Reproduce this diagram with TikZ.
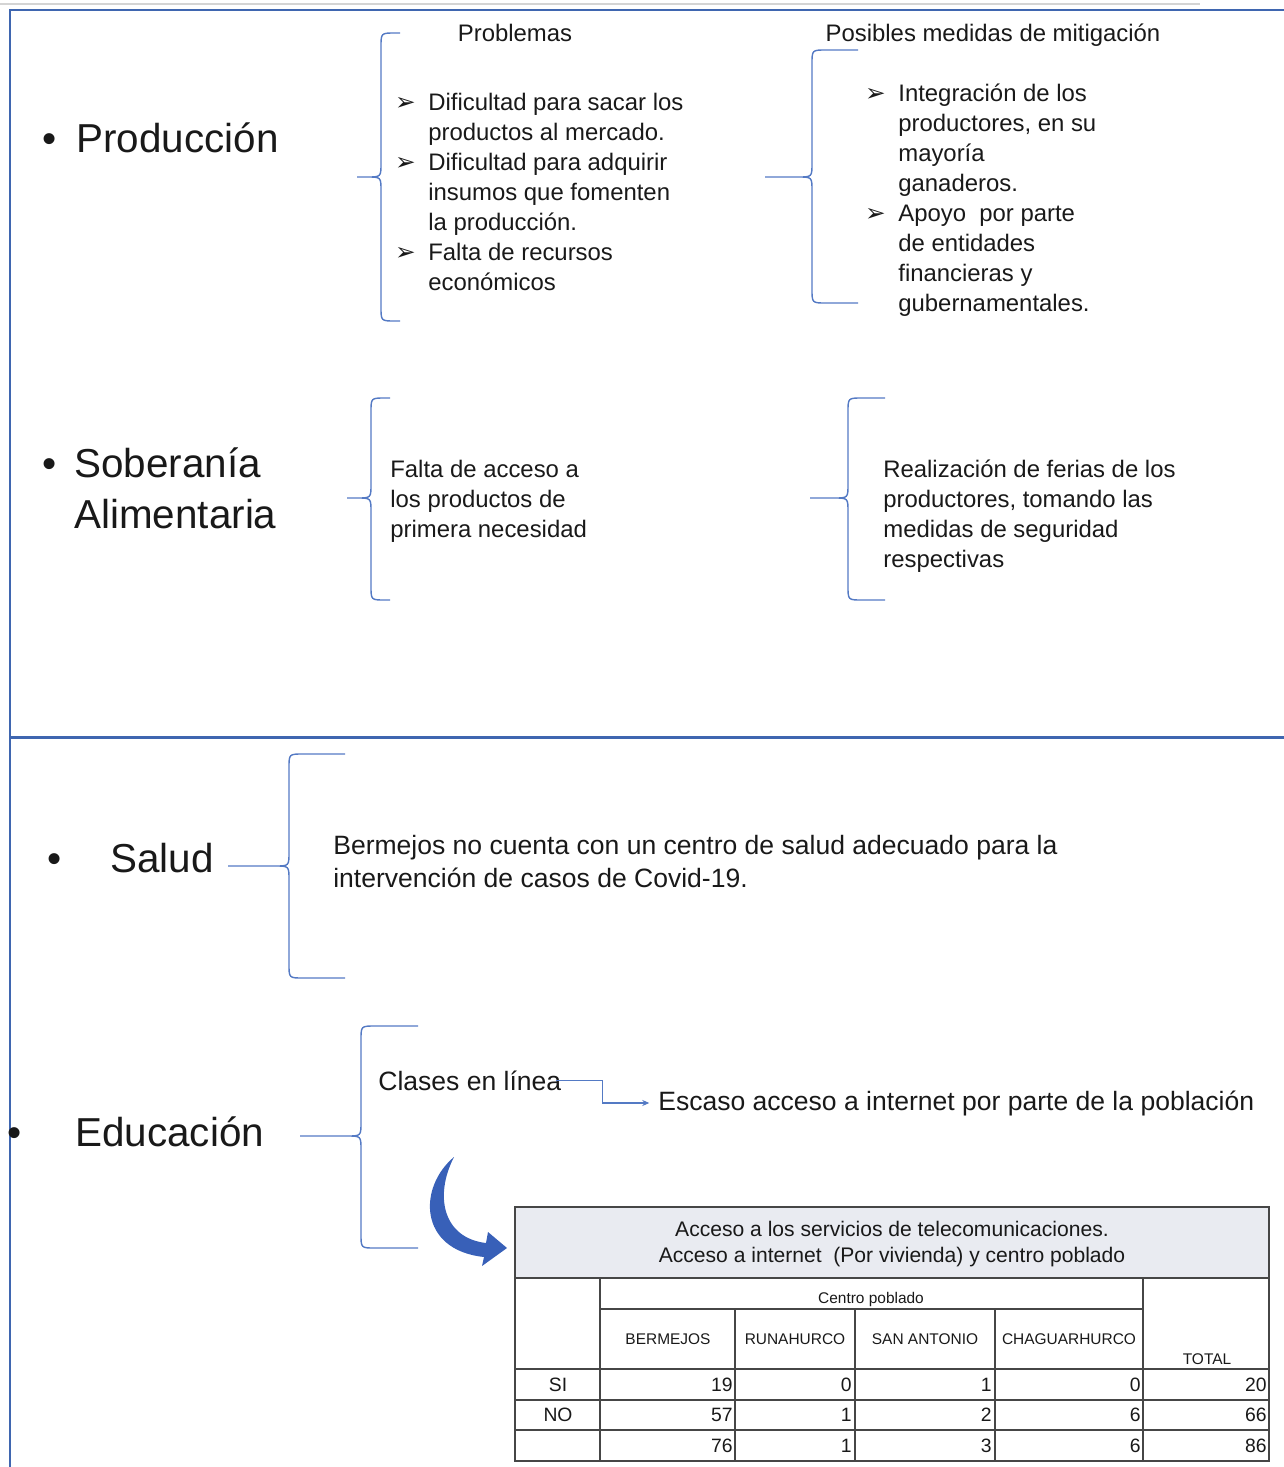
\documentclass[tikz,border=0pt]{standalone}
\usepackage{fontspec}
\setmainfont{Liberation Sans}
\newfontfamily\simbolos{DejaVu Sans}
\usepackage{tikz}
\usetikzlibrary{positioning, arrows.meta, calc}

\definecolor{azulmarco}{RGB}{63,102,176}
\definecolor{azulllave}{RGB}{84,122,196}
\definecolor{azulflecha}{RGB}{56,96,184}
\definecolor{grisborde}{RGB}{212,212,212}
\definecolor{grisceldas}{RGB}{70,70,70}
\definecolor{fondotabla}{RGB}{233,235,241}
\definecolor{tinta}{RGB}{25,25,25}

\tikzset{
  tema/.style={font=\fontsize{23}{29}\selectfont, anchor=base west, inner sep=0pt, align=left, text=tinta},
  punto/.style={font=\fontsize{23}{29}\selectfont, anchor=base, inner sep=0pt, text=tinta},
  encabezado/.style={font=\fontsize{13.6}{17}\selectfont, anchor=base, inner sep=0pt, text=tinta},
  cuerpo/.style={font=\fontsize{13.6}{17}\selectfont, anchor=base west, inner sep=0pt, align=left, text=tinta},
  cuerpog/.style={font=\fontsize{15.1}{18.7}\selectfont, anchor=base west, inner sep=0pt, align=left, text=tinta},
  vineta/.style={font=\simbolos\fontsize{14}{16}\selectfont, anchor=base east, inner sep=0pt, text=tinta},
  llave/.style={draw=azulllave, line width=0.8pt},
  marco/.style={draw=azulmarco, line width=1.7pt},
  celda/.style={draw=grisceldas, line width=1pt},
  cabecera/.style={font=\fontsize{8.8}{10}\selectfont, inner sep=0pt, text=tinta},
  fila/.style={font=\fontsize{11}{13}\selectfont, inner sep=0pt, text=tinta},
  dato/.style={font=\fontsize{11}{13}\selectfont, anchor=east, inner sep=0pt, text=tinta},
  conector/.style={draw=azulllave, line width=0.6pt, -{Stealth[length=4pt,width=3.5pt]}}
}

% llave: x del lomo, y arriba, y de la punta, y abajo, x de la punta, x de los extremos
\newcommand{\llave}[6]{%
  \draw[llave] (#6,#2) -- (#1+14,#2) .. controls (#1,#2) .. (#1,#2+14) -- (#1,#3-14)
    .. controls (#1,#3) .. (#1-14,#3) -- (#5,#3) -- (#1-14,#3)
    .. controls (#1,#3) .. (#1,#3+14) -- (#1,#4-14) .. controls (#1,#4) .. (#1+14,#4) -- (#6,#4);}

\begin{document}
\begin{tikzpicture}[x=0.02cm, y=-0.02cm]
    \useasboundingbox (0,0) rectangle (1284,1467);

    % --- Marco ---
    \draw[grisborde, line width=1.7pt] (0,4) -- (1200,4);
    \draw[marco] (1284,10) -- (10,10) -- (10,1467);
    \draw[marco] (10,737) -- (1284,737);

    % --- Produccion ---
    \node[punto] (bprod) at (50,152) {•};
    \node[tema] (produccion) at (76,152) {Producción};
    \node[encabezado] (problemas) at (515,41) {Problemas};
    \node[encabezado] (mitigacion) at (993,41) {Posibles medidas de mitigación};

    % (el base de un nodo de varias lineas es la ultima linea)
    \node[cuerpo] (prob1) at (428,140) {Dificultad para sacar los\\productos al mercado.};
    \node[cuerpo] (prob2) at (428,230) {Dificultad para adquirir\\insumos que fomenten\\la producción.};
    \node[cuerpo] (prob3) at (428,290) {Falta de recursos\\económicos};
    \node[vineta] (v1) at (416,110) {➢};
    \node[vineta] (v2) at (416,170) {➢};
    \node[vineta] (v3) at (416,260) {➢};

    \node[cuerpo] (mit1) at (898,191) {Integración de los\\productores, en su\\mayoría\\ganaderos.};
    \node[cuerpo] (mit2) at (898,311) {Apoyo~ por parte\\de entidades\\financieras y\\gubernamentales.};
    \node[vineta] (v4) at (886,101) {➢};
    \node[vineta] (v5) at (886,221) {➢};

    \llave{381}{33}{177}{321}{357}{400}
    \llave{812}{50}{177}{303}{765}{858}

    % --- Soberania alimentaria ---
    \node[punto] (bsob) at (50,477) {•};
    \node[tema] (soberania) at (74,528) {Soberanía\\Alimentaria};
    \node[cuerpo] (falta) at (390,537) {Falta de acceso a\\los productos de\\primera necesidad};
    \node[cuerpo] (ferias) at (883,567) {Realización de ferias de los\\productores, tomando las\\medidas de seguridad\\respectivas};

    \llave{371}{398}{498}{600}{347}{390}
    \llave{848}{398}{498}{600}{810}{885}

    % --- Salud ---
    \node[punto] (bsal) at (55,872) {•};
    \node[tema] (salud) at (110,872) {Salud};
    \node[cuerpog] (centro) at (333,887) {Bermejos no cuenta con un centro de salud adecuado para la\\intervención de casos de Covid-19.};
    \llave{289}{754}{866}{978}{228}{345}

    % --- Educacion ---
    \node[punto] (bedu) at (15,1146) {•};
    \node[tema] (educacion) at (75,1146) {Educación};
    \llave{361}{1026}{1136}{1248}{300}{418}
    \node[cuerpog] (clases) at (378,1090) {Clases en línea};
    \node[cuerpog] (escaso) at (658,1110) {Escaso acceso a internet por parte de la población};
    \draw[conector, shorten >=5pt] ([xshift=-3pt]clases.east) -- ++(46,0) |- (escaso.west);

    % flecha curva hacia la tabla
    \fill[azulflecha] (454,1157) .. controls (418,1187) and (418,1250) .. (484,1257)
      -- (482,1266) -- (507,1248) -- (488,1232) -- (486,1243)
      .. controls (443,1238) and (434,1196) .. cycle;

    % --- Tabla ---
    \fill[fondotabla] (515,1207) rectangle (1269,1278);
    \draw[celda] (515,1207) rectangle (1269,1461);
    \draw[celda] (515,1278) -- (1269,1278)
                 (600,1309) -- (1143,1309)
                 (515,1369) -- (1269,1369)
                 (515,1400) -- (1269,1400)
                 (515,1430) -- (1269,1430);
    \draw[celda] (600,1278) -- (600,1461)
                 (735,1309) -- (735,1461)
                 (855,1309) -- (855,1461)
                 (995,1309) -- (995,1461)
                 (1143,1278) -- (1143,1461);

    \node[font=\fontsize{12}{15.3}\selectfont, align=center, text=tinta] (titulotabla) at (892,1244)
      {Acceso a los servicios de telecomunicaciones.\\Acceso a internet~ (Por vivienda) y centro poblado};
    \node[cabecera] (centropob) at (871,1299) {Centro poblado};
    \node[cabecera] (bermejos) at (668,1339) {BERMEJOS};
    \node[cabecera] (runahurco) at (795,1339) {RUNAHURCO};
    \node[cabecera] (sanantonio) at (925,1339) {SAN ANTONIO};
    \node[cabecera] (chaguarhurco) at (1069,1339) {CHAGUARHURCO};
    \node[cabecera] (total) at (1207,1359) {TOTAL};
    \node[fila] (si) at (558,1385) {SI};
    \node[fila] (no) at (558,1415) {NO};

    \node[dato] (si1) at (733,1385) {19};
    \node[dato] (si2) at (852,1385) {0};
    \node[dato] (si3) at (992,1385) {1};
    \node[dato] (si4) at (1141,1385) {0};
    \node[dato] (si5) at (1267,1385) {20};
    \node[dato] (no1) at (733,1415) {57};
    \node[dato] (no2) at (852,1415) {1};
    \node[dato] (no3) at (992,1415) {2};
    \node[dato] (no4) at (1141,1415) {6};
    \node[dato] (no5) at (1267,1415) {66};
    \node[dato] (tot1) at (733,1446) {76};
    \node[dato] (tot2) at (852,1446) {1};
    \node[dato] (tot3) at (992,1446) {3};
    \node[dato] (tot4) at (1141,1446) {6};
    \node[dato] (tot5) at (1267,1446) {86};
\end{tikzpicture}
\end{document}
